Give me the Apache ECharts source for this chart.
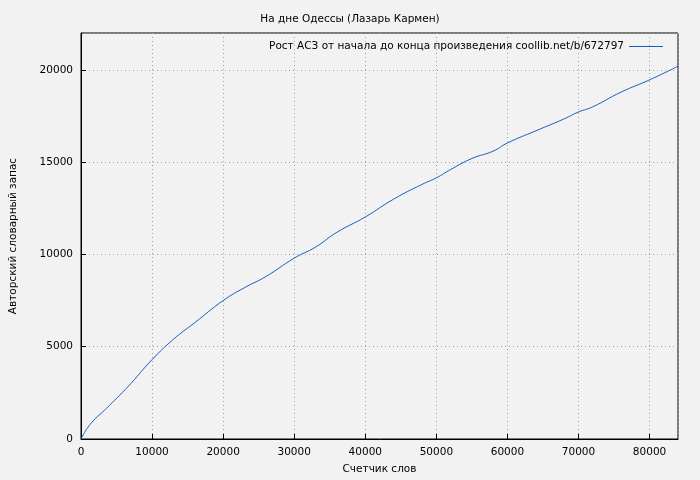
<!DOCTYPE html>
<html>
<head>
    <meta charset="utf-8">
    <title>На дне Одессы</title>
    <script src="https://cdn.jsdelivr.net/npm/echarts@6/dist/echarts.min.js"></script>
    <style>
        body { margin: 0; background: #f2f2f2; }
        #main { width: 700px; height: 480px; }
    </style>
</head>
<body>
    <div id="main"></div>
    <script>
        // счетчик слов и словарный запас
        var words = [0, 500, 1000, 2000, 3000, 5000, 7000, 10000, 13000, 16000, 20000, 23000, 26000,
            30000, 33000, 36000, 40000, 44000, 48000, 50000, 52000, 55000, 58000, 60000, 64000,
            68000, 70000, 72000, 76000, 80000, 84000];
        var vocab = [0, 350, 650, 1100, 1450, 2200, 3000, 4300, 5400, 6300, 7500, 8200, 8800,
            9800, 10400, 11200, 12030, 13000, 13800, 14150, 14600, 15200, 15600, 16040, 16700,
            17350, 17720, 18000, 18800, 19460, 20200];
        var xTicks = [0, 10000, 20000, 30000, 40000, 50000, 60000, 70000, 80000];

        var points = words.map(function (w, i) { return [w, vocab[i]]; });
        var font = 'DejaVu Sans';

        var myChart = echarts.init(document.getElementById('main'));
        var option = {
            backgroundColor: '#f2f2f2',
            animation: false,
            title: {
                text: 'На дне Одессы (Лазарь Кармен)',
                left: 'center', top: 9,
                textStyle: { fontFamily: font, fontSize: 10.5, fontWeight: 'normal', color: '#000' }
            },
            legend: {
                right: 32, top: 36, align: 'right', itemWidth: 34, itemHeight: 1, itemGap: 8,
                textStyle: { fontFamily: font, fontSize: 10.5, color: '#000' },
                data: [{ name: 'Рост АСЗ от начала до конца произведения coollib.net/b/672797', icon: 'rect' }]
            },
            grid: { left: 75, right: 22, top: 33, bottom: 41, show: true, borderColor: '#000', borderWidth: 1 },
            xAxis: {
                type: 'value', min: 0, max: 84000, interval: 10000,
                name: 'Счетчик слов', nameLocation: 'middle', nameGap: 25,
                nameTextStyle: { fontFamily: font, fontSize: 10.5, color: '#000' },
                axisLine: { lineStyle: { color: '#000' } },
                axisTick: { inside: true, length: 5, lineStyle: { color: '#000' } },
                axisLabel: { fontFamily: font, fontSize: 10.5, color: '#000',
                    showMaxLabel: false,
                    formatter: function (v) { return xTicks.indexOf(v) >= 0 ? String(v) : ''; } },
                splitLine: { lineStyle: { color: '#a0a0a0', type: [1, 3] } }
            },
            yAxis: {
                type: 'value', min: 0, max: 22000, interval: 5000,
                name: 'Авторский словарный запас', nameLocation: 'middle', nameGap: 62,
                nameTextStyle: { fontFamily: font, fontSize: 10.5, color: '#000' },
                axisLine: { show: true, lineStyle: { color: '#000' } },
                axisTick: { show: true, inside: true, length: 5, lineStyle: { color: '#000' } },
                axisLabel: { fontFamily: font, fontSize: 10.5, color: '#000', showMaxLabel: false,
                    formatter: function (v) { return String(v); } },
                splitLine: { lineStyle: { color: '#a0a0a0', type: [1, 3] } }
            },
            series: [{
                name: 'Рост АСЗ от начала до конца произведения coollib.net/b/672797',
                type: 'line', data: points, showSymbol: false, smooth: true,
                lineStyle: { color: '#1560bd', width: 1 },
                itemStyle: { color: '#1560bd' }
            }]
        };
        myChart.setOption(option);
    </script>
</body>
</html>
